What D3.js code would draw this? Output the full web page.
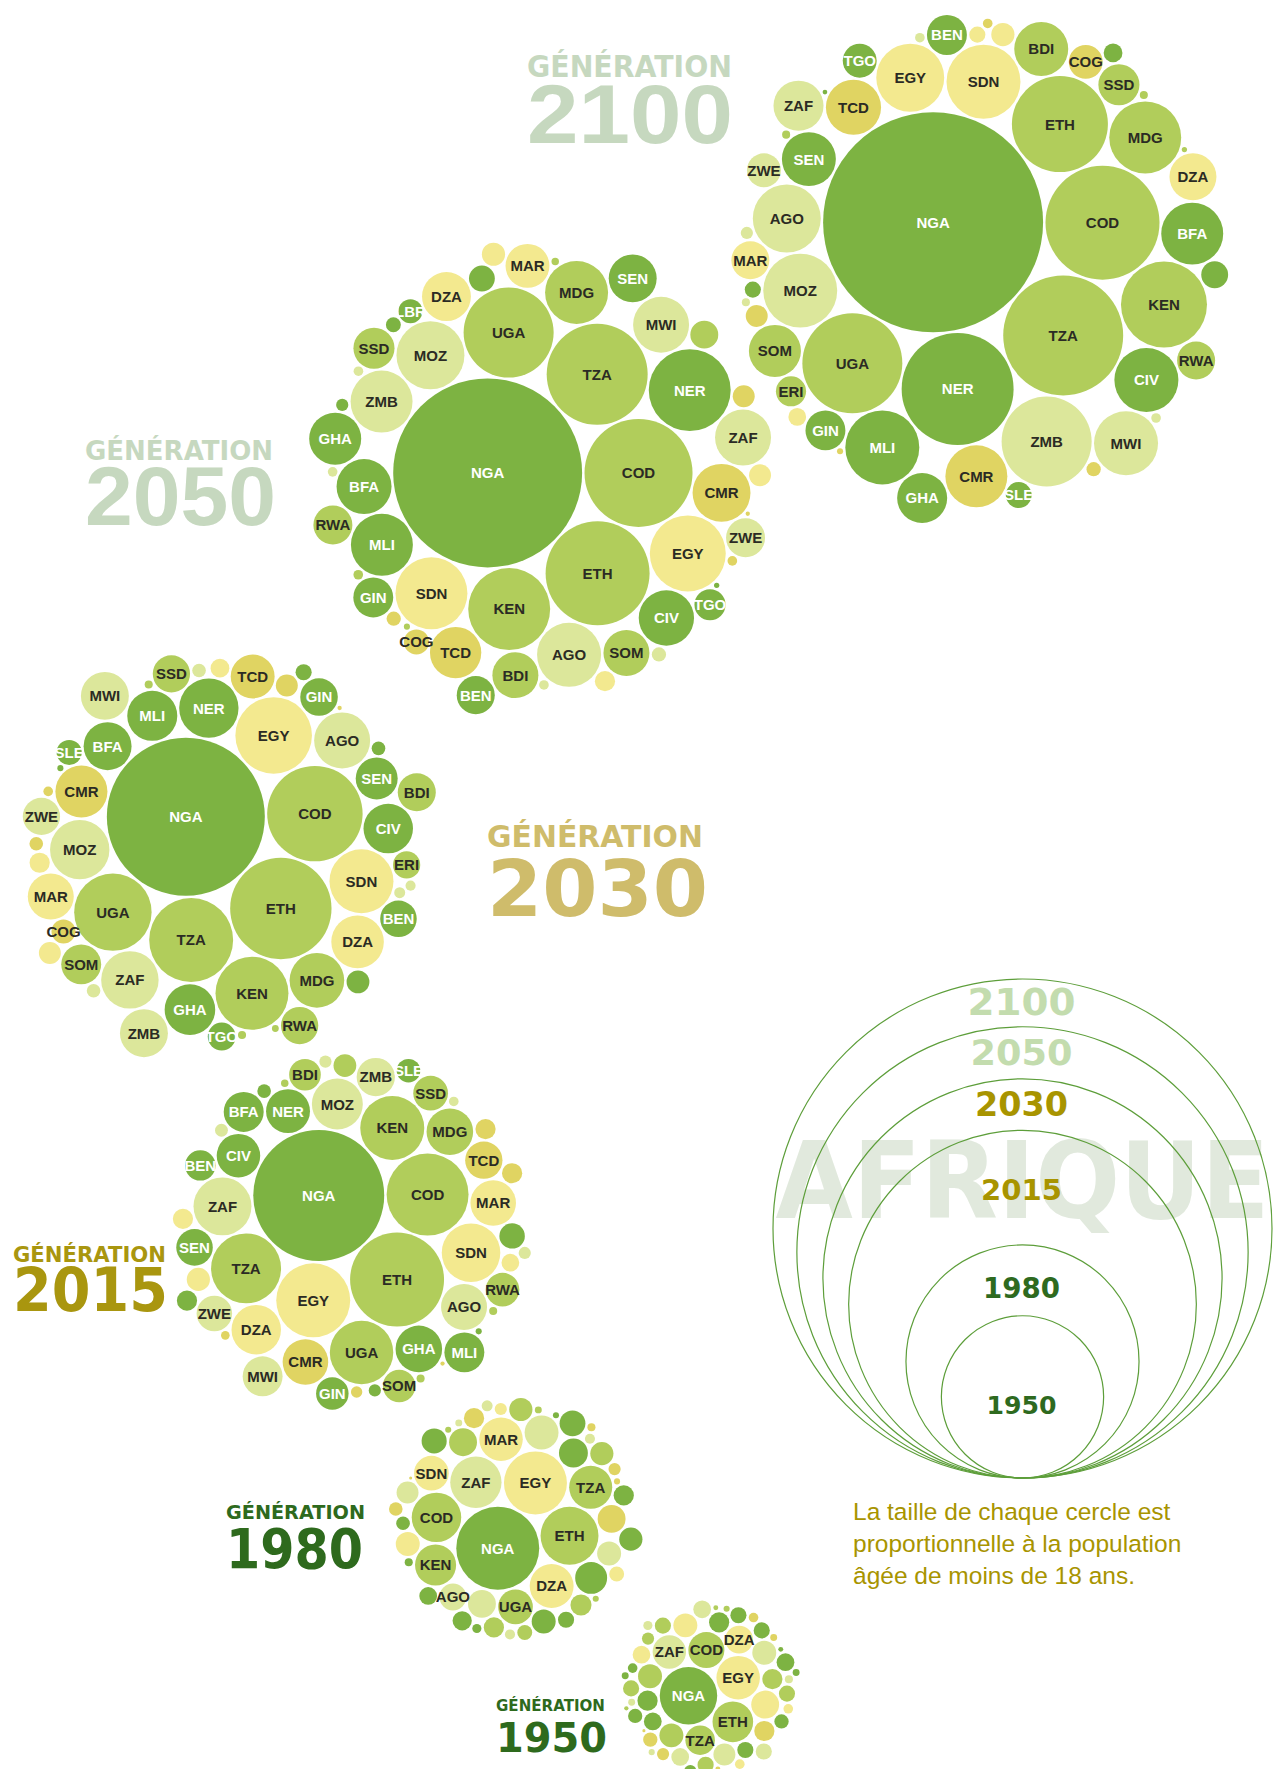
<!DOCTYPE html>
<html><head><meta charset="utf-8">
<script src="https://cdn.jsdelivr.net/npm/d3@7"></script>
<style>body{margin:0;background:#fff}</style>
</head><body>
<svg id="chart" width="1282" height="1769"></svg>
<script>
// ---------- DATA ----------
const countries = ["NGA","ETH","COD","EGY","TZA","KEN","UGA","SDN","ZAF","DZA","MOZ","AGO","MDG","GHA","CMR","MAR","NER","CIV","MLI","BFA","MWI","ZMB","TCD","SEN","ZWE","SSD","RWA","SOM","GIN","BDI","BEN","TGO","SLE","ERI","LBR","COG","CAF","TUN","LBY","MRT","GMB","GNB","GAB","NAM","BWA","LSO","SWZ","GNQ","DJI","COM","MUS","CPV","STP"];
// W = Afrique de l'Ouest, E = Est, S = Australe, N = Nord, C = Centre
const regions   = ["W","E","E","N","E","E","E","N","S","N","S","S","E","W","C","N","W","W","W","W","S","S","C","W","S","E","E","E","W","E","W","W","W","E","W","C","C","N","N","N","W","W","C","S","S","S","S","C","E","E","E","W","C"];

// population de moins de 18 ans (millions), même ordre que countries
const pop1950 = [17.8,8.9,7.0,10.2,4.7,3.1,3.1,3.1,6.0,4.2,3.1,2.6,2.2,2.2,2.2,4.2,1.4,1.7,1.7,2.2,1.7,1.4,1.1,1.4,1.7,1.4,1.4,1.4,1.4,1.4,1.1,0.8,1.1,0.8,0.5,0.5,0.8,1.7,0.5,0.5,0.26,0.26,0.26,0.35,0.26,0.45,0.2,0.13,0.1,0.13,0.2,0.13,0.05];
const pop1980 = [37.1,18.1,13.2,21.4,10.0,9.1,6.5,6.5,14.2,10.4,6.2,3.9,4.2,4.5,4.2,10.2,3.1,5.5,3.6,3.4,2.6,3.1,2.2,2.9,4.2,2.2,2.9,2.9,2.2,2.4,2.0,1.4,1.7,1.2,1.0,1.0,0.8,3.1,1.2,0.8,0.45,0.35,0.35,0.65,0.55,0.55,0.26,0.2,0.2,0.2,0.26,0.2,0.05];
const pop2015 = [92.5,47.6,36.2,29.5,26.4,22.1,21.7,18.5,18.1,13.2,14.0,11.4,11.7,11.7,11.2,11.2,10.4,10.2,8.6,8.6,8.6,7.9,7.5,7.2,6.8,6.5,6.1,5.7,5.7,5.4,5.0,3.5,3.0,2.8,2.2,2.2,2.2,2.9,1.7,2.2,1.0,0.8,0.7,0.8,0.8,0.9,0.5,0.4,0.35,0.35,0.3,0.2,0.1];
const pop2030 = [134.6,55.4,49.1,31.6,38.0,28.7,32.3,22.1,17.8,14.9,19.0,16.9,16.1,13.8,14.6,11.4,19.0,13.2,13.5,12.4,12.4,12.4,10.4,9.5,7.5,7.5,7.5,8.6,7.6,7.8,7.2,4.2,3.4,4.0,2.8,3.1,2.6,2.6,2.2,1.9,1.4,1.0,1.0,1.0,1.0,0.65,0.55,0.5,0.35,0.35,0.25,0.2,0.1];
const pop2050 = [192.5,58.3,62.9,31.1,55.0,36.2,43.7,27.9,16.9,12.9,24.9,22.1,21.4,14.6,18.1,10.4,36.2,16.5,20.7,16.3,16.9,20.7,14.2,12.4,8.2,9.1,8.2,11.4,8.6,11.4,7.8,5.2,3.6,4.2,3.1,3.4,2.6,2.6,2.9,2.2,1.2,0.8,1.1,1.1,0.5,0.5,0.5,0.5,0.5,0.3,0.2,0.15,0.1];
const pop2100 = [261,49.7,70.1,24.9,77.6,39.9,53.9,29.5,13.5,11.9,29.5,24.9,27.9,13.5,20.7,7.8,67.6,22.1,29.5,20.7,22.1,43.7,16.4,15.7,6.2,9.1,7.8,14.6,8.6,15.7,8.6,6.2,3.6,4.9,3.9,6.2,2.6,1.7,2.9,1.4,1.9,1.4,1.1,0.8,0.5,0.5,0.35,0.5,0.35,0.35,0.15,0.12,0.2];

// pays étiquetés sur chaque génération
const labels1950 = ["NGA","EGY","ETH","COD","ZAF","TZA","DZA"];
const labels1980 = ["NGA","EGY","ETH","ZAF","COD","DZA","MAR","TZA","KEN","UGA","SDN","AGO"];
const labels2015 = ["NGA","ETH","COD","EGY","TZA","KEN","UGA","SDN","ZAF","MOZ","DZA","MDG","GHA","AGO","CMR","MAR","NER","CIV","MLI","BFA","MWI","ZMB","TCD","SEN","ZWE","SSD","RWA","SOM","GIN","BDI","BEN","SLE"];
const labels2030 = ["NGA","ETH","COD","TZA","UGA","EGY","KEN","SDN","NER","MOZ","ZAF","AGO","MDG","DZA","CMR","GHA","MLI","CIV","MWI","ZMB","BFA","MAR","TCD","SEN","SOM","BDI","GIN","RWA","SSD","ZWE","BEN","TGO","ERI","SLE","COG"];
const labels2050 = ["NGA","COD","ETH","TZA","UGA","NER","KEN","EGY","SDN","MOZ","AGO","MDG","ZMB","MLI","CMR","MWI","ZAF","CIV","BFA","GHA","TCD","DZA","SEN","SOM","BDI","MAR","SSD","GIN","ZWE","RWA","BEN","TGO","COG","LBR"];
const labels2100 = ["NGA","COD","TZA","NER","UGA","ETH","ZMB","KEN","SDN","MOZ","MLI","MDG","EGY","AGO","CIV","MWI","CMR","BFA","TCD","SEN","BDI","SOM","ZAF","GHA","DZA","SSD","GIN","BEN","MAR","RWA","ZWE","TGO","COG","ERI","SLE"];

const legendYears = ["2100","2050","2030","2015","1980","1950"];
const captionLines = ["La taille de chaque cercle est","proportionnelle à la population","âgée de moins de 18 ans."];

// ---------- LAYOUT ----------
const regionColor = {W:"#7db342", E:"#b1cd5b", S:"#dce79b", N:"#f3e98f", C:"#e0d462"};
const generations = [
  {year:"2100", pop:pop2100, labels:labels2100, cx:975, cy:267, rot:41, mirror:true,
   title:{x:527, y1:77, s1:30, w1:205, y2:143, s2:83, w2:206, fill:"#c6d8bf", f2:"Liberation Sans"}},
  {year:"2050", pop:pop2050, labels:labels2050, cx:546, cy:481, rot:0, mirror:false,
   title:{x:85, y1:460, s1:26, w1:188, y2:525, s2:84, w2:191, fill:"#c6d8bf", f2:"Liberation Sans"}},
  {year:"2030", pop:pop2030, labels:labels2030, cx:224, cy:853, rot:44, mirror:true,
   title:{x:487, y1:847, s1:29.5, w1:216, y2:916, s2:78, w2:221, fill:"#cfbc6b", f2:"DejaVu Sans"}},
  {year:"2015", pop:pop2015, labels:labels2015, cx:348, cy:1234, rot:47, mirror:true,
   title:{x:13, y1:1262, s1:21, w1:153, y2:1311, s2:60, w2:155, fill:"#a9960f", f2:"DejaVu Sans"}},
  {year:"1980", pop:pop1980, labels:labels1980, cx:516, cy:1522, rot:-60, mirror:false,
   title:{x:226, y1:1519, s1:19, w1:139, y2:1568, s2:56, w2:137, fill:"#2e6a1d", f2:"DejaVu Sans"}},
  {year:"1950", pop:pop1950, labels:labels1950, cx:709, cy:1688, rot:-20, mirror:false,
   title:{x:496, y1:1711, s1:15, w1:109, y2:1752, s2:41, w2:111, fill:"#2e6a1d", f2:"DejaVu Sans"}}
];

const svg = d3.select("#chart");
const rScale = d3.scaleSqrt().domain([0, d3.max(pop2100)]).range([0, 110]);
const pad = 1.2;

// ---------- LEGEND ----------
const legendCx = 1022.5, legendBottom = 1478;
const totals = {};
generations.forEach(g => totals[g.year] = d3.sum(g.pop));
const legendScale = d3.scaleSqrt().domain([0, totals["2100"]]).range([0, 249.5]);

const lg = svg.append("g").attr("class","legend");
lg.append("text").text("AFRIQUE")
  .attr("transform", `translate(${legendCx},1218) scale(1,1.07)`)
  .attr("text-anchor","middle")
  .attr("font-family","DejaVu Sans").attr("font-weight","bold").attr("font-size",100)
  .attr("textLength", 494).attr("lengthAdjust","spacingAndGlyphs")
  .attr("fill","#e1e9dd");
lg.selectAll("circle.leg").data(legendYears).join("circle").attr("class","leg")
  .attr("cx", legendCx)
  .attr("cy", d => legendBottom - legendScale(totals[d]))
  .attr("r", d => legendScale(totals[d]))
  .attr("fill","none").attr("stroke","#5d9e3a").attr("stroke-width",1.2);
const legText = {
  "2100":{y:1015, s:38, w:108, c:"#c3dcae"},
  "2050":{y:1065, s:36, w:102, c:"#c3dcae"},
  "2030":{y:1116, s:33, w:93, c:"#a89400"},
  "2015":{y:1200, s:29, w:81, c:"#a89400"},
  "1980":{y:1298, s:27.5, w:77, c:"#2e6a1f"},
  "1950":{y:1414, s:25, w:70, c:"#2e6a1f"}
};
lg.selectAll("text.ly").data(legendYears).join("text").attr("class","ly")
  .text(d => d)
  .attr("x", legendCx - 1).attr("y", d => legText[d].y)
  .attr("text-anchor","middle")
  .attr("font-family","DejaVu Sans").attr("font-weight","bold")
  .attr("font-size", d => legText[d].s)
  .attr("textLength", d => legText[d].w).attr("lengthAdjust","spacingAndGlyphs")
  .attr("fill", d => legText[d].c);
lg.selectAll("text.cap").data(captionLines).join("text").attr("class","cap")
  .text(d => d)
  .attr("x", 853).attr("y", (d,i) => 1520 + i*32)
  .attr("font-family","Liberation Sans, Arial, sans-serif")
  .attr("font-size", 24.5).attr("fill","#a89400");

// ---------- CLUSTERS ----------
generations.forEach(g => {
  const labelSet = new Set(g.labels);
  const nodes = countries.map((c,i) => ({code:c, region:regions[i], value:g.pop[i]}))
    .filter(d => d.value > 0)
    .sort((a,b) => b.value - a.value);
  nodes.forEach(d => d.r = rScale(d.value) + pad);
  d3.packSiblings(nodes);
  const a = g.rot * Math.PI / 180;
  nodes.forEach(d => {
    const y0 = g.mirror ? -d.y : d.y;
    const x = d.x*Math.cos(a) - y0*Math.sin(a);
    const y = d.x*Math.sin(a) + y0*Math.cos(a);
    d.x = x; d.y = y;
    d.r = d.r - pad;
  });

  const t = g.title;
  const tg = svg.append("g").attr("class","title");
  tg.append("text").text("GÉNÉRATION")
    .attr("x", t.x).attr("y", t.y1)
    .attr("font-family","DejaVu Sans").attr("font-weight","bold").attr("font-size", t.s1)
    .attr("textLength", t.w1).attr("lengthAdjust","spacingAndGlyphs").attr("fill", t.fill);
  tg.append("text").text(g.year)
    .attr("x", t.x).attr("y", t.y2)
    .attr("font-family", t.f2).attr("font-weight","bold").attr("font-size", t.s2)
    .attr("textLength", t.w2).attr("lengthAdjust","spacingAndGlyphs").attr("fill", t.fill);

  const cg = svg.append("g").attr("transform", `translate(${g.cx},${g.cy})`);
  cg.selectAll("circle").data(nodes).join("circle")
    .attr("cx", d => d.x).attr("cy", d => d.y).attr("r", d => d.r)
    .attr("fill", d => regionColor[d.region]);
  cg.selectAll("text").data(nodes.filter(d => labelSet.has(d.code))).join("text")
    .text(d => d.code)
    .attr("x", d => d.x).attr("y", d => d.y).attr("dy","0.36em")
    .attr("text-anchor","middle")
    .attr("font-family","Liberation Sans, Arial, sans-serif").attr("font-weight","bold")
    .attr("font-size", 15)
    .attr("fill", d => d.region === "W" ? "#ffffff" : "#2b2b24");
});
</script>
</body></html>
